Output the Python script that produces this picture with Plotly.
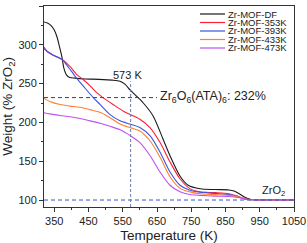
import plotly.graph_objects as go

# ---------------- data ----------------
names = ["Zr-MOF-DF", "Zr-MOF-353K", "Zr-MOF-393K", "Zr-MOF-433K", "Zr-MOF-473K"]
colors = ["#1a1a1a", "#ff1f3a", "#3a55e0", "#ff7f30", "#c050f0"]

T_df = [320, 330, 340, 350, 358, 365, 372, 378, 386, 395, 410, 440, 480, 520, 542, 557, 571, 590,
        610, 639, 668, 688, 717, 741, 776, 820, 860, 875, 890, 905, 922, 950, 1000, 1050]
W_df = [329.5, 328, 325, 319, 310, 298, 285, 270, 261, 258, 257, 256, 255.5, 254.5, 253, 249, 242, 234,
        225, 208, 178, 157, 131, 119, 114.5, 113.5, 113, 111.5, 108, 104, 101, 100.5, 100.3, 100.2]

T_353 = [320, 330, 345, 360, 376, 396, 415, 435, 455, 475, 492, 522, 552, 573, 600, 630, 659, 688,
         717, 746, 776, 820, 860, 885, 905, 930, 1050]
W_353 = [297, 291, 287, 284, 280, 272, 262, 255, 247, 238, 232, 223, 214.5, 210, 204, 193, 174, 149,
         127.4, 114.7, 110.5, 109.5, 108, 105, 101.5, 100.3, 100]

T_393 = [320, 335, 350, 365, 376, 386, 400, 415, 440, 464, 484, 513, 542, 573, 600, 630, 659, 688,
         717, 746, 776, 820, 860, 890, 910, 930, 1050]
W_393 = [295, 290, 286, 283, 280, 274, 266, 257, 244, 232, 223, 210, 202, 197.6, 193.4, 182.6, 161.5, 136,
         119, 112.5, 110, 108.5, 107, 104, 101, 100.3, 100]

T_433 = [320, 337, 367, 396, 425, 454, 484, 513, 542, 573, 600, 630, 659, 688, 717, 746, 776, 820,
         860, 890, 910, 930, 1050]
W_433 = [231, 227, 223, 221, 219.5, 216.5, 213, 206, 198, 193, 189, 176, 155, 130, 115, 110.5, 108, 107,
         106, 104, 101, 100.3, 100]

T_473 = [320, 337, 367, 396, 425, 454, 484, 513, 542, 573, 600, 630, 659, 688, 717, 746, 776, 820,
         860, 890, 910, 930, 1050]
W_473 = [212.5, 211, 209, 207.4, 205, 202, 199, 195, 190.5, 182.6, 174, 157, 136, 119, 110.5, 107, 106, 105,
         104.5, 103, 101, 100.3, 100]

series_T = [T_df, T_353, T_393, T_433, T_473]
series_W = [W_df, W_353, W_393, W_433, W_473]

x_ticks = [350, 450, 550, 650, 750, 850, 950, 1050]
y_ticks = [100, 150, 200, 250, 300, 350]
x_range = [320, 1050]
y_range = [91, 350]

T_MARK = 573          # K
W_COMPLEX = 232       # % for Zr6O6(ATA)6
W_ZRO2 = 100          # % for ZrO2
T_LINE_END = 650      # end of the 232 % guide line
W_VLINE_TOP = 253

FONT = "Liberation Sans, Arial, sans-serif"

fig = go.Figure()
for name, col, T, W in zip(names, colors, series_T, series_W):
    fig.add_trace(go.Scatter(x=T, y=W, mode="lines", name=name,
                             line=dict(color=col, width=1.1, shape="spline", smoothing=0.8),
                             showlegend=False))

# guide lines
fig.add_shape(type="line", xref="x", yref="y", x0=x_range[0], x1=x_range[1], y0=W_ZRO2, y1=W_ZRO2,
              line=dict(color="#3355cc", width=1, dash="4px,3px"))
fig.add_shape(type="line", xref="x", yref="y", x0=x_range[0], x1=T_LINE_END, y0=W_COMPLEX, y1=W_COMPLEX,
              line=dict(color="#404058", width=1, dash="4px,3px"))
fig.add_shape(type="line", xref="x", yref="y", x0=T_MARK, x1=T_MARK, y0=y_range[0], y1=W_VLINE_TOP,
              line=dict(color="#6a78a8", width=1, dash="3px,2px"))

# annotations
fig.add_annotation(x=T_MARK - 8, y=261, xref="x", yref="y", text="573 K", showarrow=False,
                   font=dict(family=FONT, size=11, color="#222"))
fig.add_annotation(x=T_LINE_END + 3, y=W_COMPLEX + 1, xref="x", yref="y", xanchor="left",
                   text="Zr<sub>6</sub>O<sub>6</sub>(ATA)<sub>6</sub>: 232%", showarrow=False,
                   font=dict(family=FONT, size=12.5, color="#222"))
fig.add_annotation(x=989, y=112, xref="x", yref="y",
                   text="ZrO<sub>2</sub>", showarrow=False,
                   font=dict(family=FONT, size=11, color="#222"))

# manual compact legend (paper coordinates)
L, R, TOP, BOT = 44, 294, 6, 207
W_PLOT, H_PLOT = R - L, BOT - TOP
def px_x(p):
    return (p - L) / W_PLOT
def px_y(p):
    return 1 - (p - TOP) / H_PLOT
for i, (name, col) in enumerate(zip(names, colors)):
    yy = 14 + i * 8.5
    fig.add_shape(type="line", xref="paper", yref="paper", x0=px_x(200), x1=px_x(225),
                  y0=px_y(yy), y1=px_y(yy), line=dict(color=col, width=1.2))
    fig.add_annotation(x=px_x(227), y=px_y(yy), xref="paper", yref="paper", xanchor="left",
                       yanchor="middle", text=name, showarrow=False, borderpad=0,
                       font=dict(family=FONT, size=9.5, color="#222"))

axis_common = dict(showline=True, linecolor="#333", linewidth=1, mirror=True, ticks="outside",
                   ticklen=4, tickcolor="#333", showgrid=False, zeroline=False, automargin=False,
                   tickfont=dict(family=FONT, size=11, color="#222"))
fig.update_xaxes(range=x_range, tickvals=x_ticks, ticktext=[str(v) for v in x_ticks],
                 minor=dict(ticks="outside", ticklen=2, dtick=50, tick0=350, tickcolor="#333"),
                 title=dict(text="Temperature (K)", font=dict(family=FONT, size=13.5, color="#222"),
                            standoff=4),
                 **axis_common)
fig.update_yaxes(range=y_range, tickvals=y_ticks, ticktext=[str(v) for v in y_ticks],
                 minor=dict(ticks="outside", ticklen=2, dtick=25, tick0=100, tickcolor="#333"),
                 title=dict(text="Weight (% ZrO<sub>2</sub>)", font=dict(family=FONT, size=13.5, color="#222"),
                            standoff=4),
                 **axis_common)

fig.update_layout(width=307, height=243, margin=dict(l=44, r=13, t=6, b=36),
                  plot_bgcolor="white", paper_bgcolor="white", showlegend=False)

fig.write_html("out.html", config={"displayModeBar": False},
               post_script="document.body.style.margin='0';document.body.style.overflow='hidden';")
